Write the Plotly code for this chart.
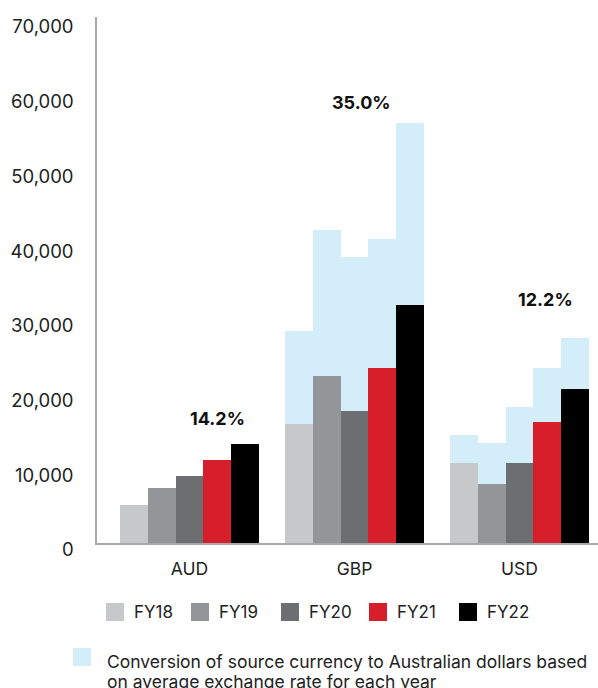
import plotly.graph_objects as go

# Categories and series
currencies = ["AUD", "GBP", "USD"]
years = ["FY18", "FY19", "FY20", "FY21", "FY22"]

# Values in source currency
fy18 = [5100, 15900, 10700]
fy19 = [7300, 22300, 7900]
fy20 = [9000, 17700, 10700]
fy21 = [11100, 23400, 16200]
fy22 = [13200, 31800, 20600]

# Same values converted to Australian dollars (AUD needs no conversion)
aud18 = [None, 28400, 14400]
aud19 = [None, 41900, 13400]
aud20 = [None, 38300, 18200]
aud21 = [None, 40700, 23400]
aud22 = [None, 56200, 27400]

growth = ["14.2%", "35.0%", "12.2%"]

y_ticks = [0, 10000, 20000, 30000, 40000, 50000, 60000, 70000]

conv_note = ["Conversion of source currency to Australian dollars based",
             "on average exchange rate for each year"]

source = [fy18, fy19, fy20, fy21, fy22]
converted = [aud18, aud19, aud20, aud21, aud22]
colors = ["#c7c8ca", "#939598", "#6d6e71", "#d71f2b", "#000000"]
conv_color = "#d3eef9"

FONT = "Inter"
W, H = 598, 688
ML, MR, MT, MB = 97, 0, 17, 145

bar_w = 0.1685
first_off = -2.5 * bar_w

fig = go.Figure()

# Converted totals sit behind the source-currency bars
for i, vals in enumerate(converted):
    fig.add_trace(go.Bar(
        x=currencies, y=vals, width=bar_w, offset=first_off + i * bar_w,
        marker=dict(color=conv_color, line=dict(width=0)),
        showlegend=False, hoverinfo="skip",
    ))

for i, (vals, col) in enumerate(zip(source, colors)):
    fig.add_trace(go.Bar(
        x=currencies, y=vals, width=bar_w, offset=first_off + i * bar_w,
        marker=dict(color=col, line=dict(width=0)),
        name=years[i], showlegend=False,
    ))

# Growth labels above each currency group
label_pos = {"AUD": (0.17, 16700), "GBP": (0.045, 58900), "USD": (0.155, 32600)}
for cur, txt in zip(currencies, growth):
    dx, yy = label_pos[cur]
    fig.add_annotation(
        x=currencies.index(cur) + dx, y=yy, text=txt, showarrow=False,
        xanchor="center", yanchor="middle",
        font=dict(family=FONT, size=18, color="#111111", weight="bold"),
    )

# Legend drawn in pixel space
pw, ph = W - ML - MR, H - MT - MB


def px(x):
    return (x - ML) / pw


def py(y):
    return (H - MB - y) / ph


legend_x = [106, 191, 281, 369, 459]
for lx, name, col in zip(legend_x, years, colors):
    fig.add_shape(type="rect", xref="paper", yref="paper",
                  x0=px(lx), x1=px(lx + 18), y0=py(621), y1=py(603),
                  fillcolor=col, line=dict(width=0))
    fig.add_annotation(xref="paper", yref="paper", x=px(lx + 26), y=py(612),
                       text=name, showarrow=False, xanchor="left", yanchor="middle",
                       font=dict(family=FONT, size=17, color="#222222"))

fig.add_shape(type="rect", xref="paper", yref="paper",
              x0=px(73), x1=px(91), y0=py(666), y1=py(648),
              fillcolor=conv_color, line=dict(width=0))
for line_y, line_txt in zip([662, 681], conv_note):
    fig.add_annotation(xref="paper", yref="paper", x=px(105), y=py(line_y),
                       text=line_txt, showarrow=False,
                       xanchor="left", yanchor="middle", align="left",
                       font=dict(family=FONT, size=17.5, color="#222222"))

fig.update_layout(
    width=W, height=H, autosize=False,
    margin=dict(l=ML, r=MR, t=MT, b=MB),
    barmode="overlay", bargap=0,
    plot_bgcolor="white", paper_bgcolor="white",
    showlegend=False,
    font=dict(family=FONT, color="#222222"),
)
fig.update_xaxes(
    range=[-0.561, 2.476], showgrid=False, zeroline=False,
    showline=True, linecolor="#a7a9ac", linewidth=1.5,
    ticks="", tickfont=dict(family=FONT, size=17.5, color="#222222"),
    ticklabelstandoff=9,
)
fig.update_yaxes(
    range=[0, 70400], showgrid=False, zeroline=False,
    showline=True, linecolor="#a7a9ac", linewidth=1.5,
    ticks="", tickvals=y_ticks, ticktext=[f"{v:,}" for v in y_ticks],
    tickfont=dict(family=FONT, size=18.5, color="#222222"),
    ticklabelstandoff=18, ticklabelshift=7,
)

fig.write_html("out.html")
